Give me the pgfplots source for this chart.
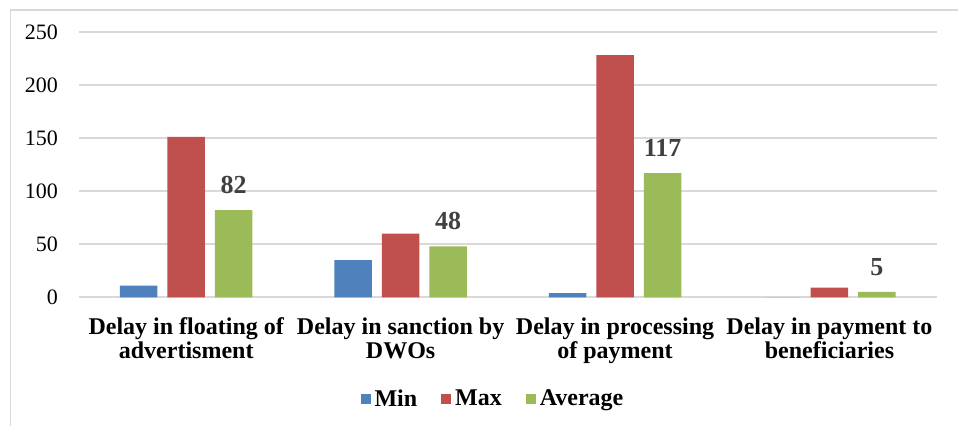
\documentclass[border=0pt]{standalone}
\usepackage{pgfplots}
\pgfplotsset{compat=1.18}
\usepackage{fontspec}
\setmainfont{Liberation Serif}
\definecolor{cMin}{HTML}{4F81BD}
\definecolor{cMax}{HTML}{C0504D}
\definecolor{cAvg}{HTML}{9BBB59}
\definecolor{gridc}{HTML}{D9D9D9}
\definecolor{lbl}{HTML}{404040}
\begin{document}
\begin{tikzpicture}[x=1pt,y=1pt]
\useasboundingbox (-39.5,-64.35) rectangle (439.5,148.65);
\draw[gridc, line width=0.8pt] (-34.3,-70) -- (-34.3,143.5) -- (445,143.5);
\begin{axis}[
  at={(0,0)}, anchor=south west,
  scale only axis,
  width=428.85pt, height=132.75pt,
  ybar,
  bar width=18.75pt,
  xmin=-0.5, xmax=3.5,
  ymin=0, ymax=250,
  ytick={0,50,...,250},
  xtick={0,1,2,3},
  xticklabels={{Delay in floating of\\advertisment},{Delay in sanction by\\DWOs},{Delay in processing\\of payment},{Delay in payment to\\beneficiaries}},
  xticklabel style={align=center, font=\fontsize{12}{12}\selectfont\bfseries, yshift=-6.5pt},
  yticklabel style={font=\fontsize{11}{13}\selectfont, xshift=-7pt},
  /pgf/number format/assume math mode=true,
  major tick length=0pt,
  tick style={draw=none},
  axis line style={draw=none},
  axis x line*=bottom,
  axis y line*=left,
  xmajorgrids=false,
  ymajorgrids=true,
  grid style={draw=gridc, line width=0.8pt},
  legend style={at={(0.4838,-0.384)}, anchor=center, draw=none, fill=none,
    legend columns=3, font=\fontsize{12}{12}\selectfont\bfseries,
    /tikz/every even column/.append style={column sep=10pt},
    inner sep=0pt},
  legend image code/.code={\fill[#1] (0pt,-2.5pt) rectangle (5pt,2.5pt);},
  clip=false,
]
\draw[gridc, line width=0.8pt] (axis cs:-0.5,0) -- (axis cs:3.5,0);
\addplot[fill=cMin, draw=none, bar shift=-23.75pt] coordinates {(0,11) (1,35) (2,4) (3,0)};
\addlegendentry{Min}
\addplot[fill=cMax, draw=none, bar shift=0pt] coordinates {(0,151) (1,60) (2,228) (3,9)};
\addlegendentry{Max}
\addplot[fill=cAvg, draw=none, bar shift=23.75pt,
  nodes near coords,
  every node near coord/.append style={font=\fontsize{13}{13}\selectfont\bfseries, text=lbl, yshift=4.7pt}]
  coordinates {(0,82) (1,48) (2,117) (3,5)};
\addlegendentry{Average}
\end{axis}
\end{tikzpicture}
\end{document}
